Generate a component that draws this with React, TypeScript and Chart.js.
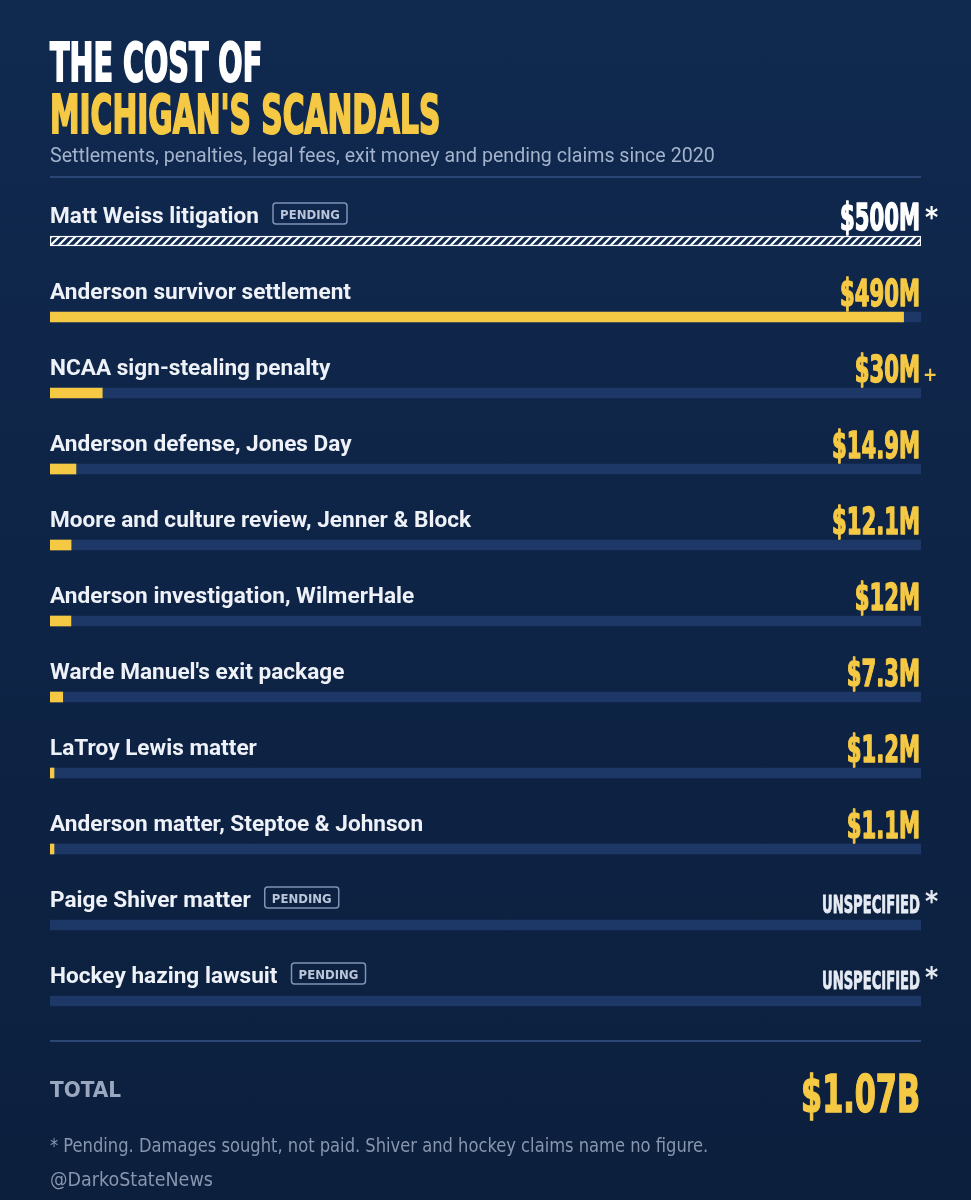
import React, { useEffect, useLayoutEffect, useRef } from "react";
import { Chart, registerables } from "chart.js";

Chart.register(...registerables);

// ---------- data ----------
const categories = [
  "Matt Weiss litigation",
  "Anderson survivor settlement",
  "NCAA sign-stealing penalty",
  "Anderson defense, Jones Day",
  "Moore and culture review, Jenner & Block",
  "Anderson investigation, WilmerHale",
  "Warde Manuel's exit package",
  "LaTroy Lewis matter",
  "Anderson matter, Steptoe & Johnson",
  "Paige Shiver matter",
  "Hockey hazing lawsuit",
];
// amounts in $ millions (null = unspecified)
const amounts: (number | null)[] = [500, 490, 30, 14.9, 12.1, 12, 7.3, 1.2, 1.1, null, null];
const valueLabels = [
  "$500M",
  "$490M",
  "$30M",
  "$14.9M",
  "$12.1M",
  "$12M",
  "$7.3M",
  "$1.2M",
  "$1.1M",
  "UNSPECIFIED",
  "UNSPECIFIED",
];
const valueSuffix = ["*", "", "+", "", "", "", "", "", "", "*", "*"];
const pending = [true, false, false, false, false, false, false, false, false, true, true];
const scaleMax = 500;
const totalLabel = "TOTAL";
const totalValue = "$1.07B";
const titleLine1 = "THE COST OF";
const titleLine2 = "MICHIGAN'S SCANDALS";
const subtitle = "Settlements, penalties, legal fees, exit money and pending claims since 2020";
const footnote = "* Pending. Damages sought, not paid. Shiver and hockey claims name no figure.";
const handle = "@DarkoStateNews";

// ---------- styles ----------
const BG_TOP = "#10294f";
const BG_BOTTOM = "#0c1f3d";
const YELLOW = "#f5c944";
const TRACK = "#1d3767";
const WHITE = "#eef2f8";
const COND = "'DejaVu Sans Condensed', 'DejaVu Sans', sans-serif";

function Fit(props: {
  text: string;
  width: number;
  style: React.CSSProperties;
  right?: boolean;
}) {
  const ref = useRef<HTMLSpanElement>(null);
  useLayoutEffect(() => {
    const el = ref.current;
    if (!el) return;
    const w = el.offsetWidth;
    if (w > 0) el.style.transform = `scaleX(${props.width / w})`;
  }, [props.text, props.width]);
  return (
    <span
      ref={ref}
      style={{
        position: "absolute",
        display: "inline-block",
        whiteSpace: "nowrap",
        transformOrigin: props.right ? "right top" : "left top",
        ...props.style,
      }}
    >
      {props.text}
    </span>
  );
}

function makeHatch(): CanvasPattern | string {
  const c = document.createElement("canvas");
  c.width = 8;
  c.height = 8;
  const g = c.getContext("2d");
  if (!g) return "#ffffff";
  g.fillStyle = BG_TOP;
  g.fillRect(0, 0, 8, 8);
  g.strokeStyle = "#ffffff";
  g.lineWidth = 2.2;
  g.beginPath();
  g.moveTo(-2, 10);
  g.lineTo(10, -2);
  g.moveTo(-6, 6);
  g.lineTo(6, -6);
  g.moveTo(2, 14);
  g.lineTo(14, 2);
  g.stroke();
  return g.createPattern(c, "repeat") || "#ffffff";
}

const LABEL_FONT = "700 22px Roboto, 'Noto Sans', sans-serif";
const VALUE_FONT = `bold 37px ${COND}`;
const UNSPEC_FONT = `bold 25px ${COND}`;
const BADGE_FONT = `bold 13px ${COND}`;

const rowTextPlugin = {
  id: "rowText",
  afterDatasetsDraw(chart: any) {
    const ctx: CanvasRenderingContext2D = chart.ctx;
    const yScale = chart.scales.y;
    const area = chart.chartArea;
    ctx.save();
    ctx.textBaseline = "alphabetic";
    ctx.lineJoin = "round";
    ctx.font = LABEL_FONT;
    const kL = 209 / ctx.measureText(categories[0]).width;
    ctx.font = VALUE_FONT;
    const kV = 80 / ctx.measureText(valueLabels[0]).width;
    ctx.font = UNSPEC_FONT;
    const kU = 98 / ctx.measureText("UNSPECIFIED").width;

    categories.forEach((cat, i) => {
      const cy = yScale.getPixelForValue(i);
      // label
      ctx.font = LABEL_FONT;
      ctx.fillStyle = WHITE;
      ctx.textAlign = "left";
      const lw = ctx.measureText(cat).width * kL;
      ctx.save();
      ctx.translate(area.left, cy - 18);
      ctx.scale(kL, 1);
      ctx.fillText(cat, 0, 0);
      ctx.restore();

      if (pending[i]) {
        const bx = area.left + lw + 14;
        const by = cy - 38;
        const bw = 74;
        const bh = 21;
        ctx.strokeStyle = "#7f93b5";
        ctx.lineWidth = 1.5;
        ctx.beginPath();
        (ctx as any).roundRect
          ? (ctx as any).roundRect(bx, by, bw, bh, 3)
          : ctx.rect(bx, by, bw, bh);
        ctx.stroke();
        ctx.font = BADGE_FONT;
        ctx.fillStyle = "#b9c6da";
        ctx.textAlign = "center";
        ctx.fillText("PENDING", bx + bw / 2, by + 15.5);
      }

      // value
      const isUnspec = amounts[i] === null;
      const col = i === 0 ? "#ffffff" : isUnspec ? "#e6ebf3" : YELLOW;
      ctx.textAlign = "right";
      ctx.fillStyle = col;
      ctx.strokeStyle = col;
      ctx.save();
      if (isUnspec) {
        ctx.font = UNSPEC_FONT;
        ctx.translate(area.right - 1, cy - 12);
        ctx.scale(kU, 1);
        ctx.lineWidth = 0.8;
      } else {
        ctx.font = VALUE_FONT;
        ctx.translate(area.right - 1, cy - 11);
        ctx.scale(kV, 1);
        ctx.lineWidth = 1.4;
      }
      ctx.fillText(valueLabels[i], 0, 0);
      ctx.strokeText(valueLabels[i], 0, 0);
      ctx.restore();

      const suf = valueSuffix[i];
      if (suf === "*") {
        ctx.font = `bold 28px ${COND}`;
        ctx.textAlign = "left";
        ctx.fillStyle = col;
        ctx.fillText("*", area.right + 4, cy - 14);
      } else if (suf === "+") {
        ctx.font = `bold 19px ${COND}`;
        ctx.textAlign = "left";
        ctx.fillStyle = YELLOW;
        ctx.fillText("+", area.right + 2, cy - 12);
      }
    });
    ctx.restore();
  },
};

function BarsChart() {
  const ref = useRef<HTMLCanvasElement>(null);
  useEffect(() => {
    const canvas = ref.current;
    if (!canvas) return;
    const hatch = makeHatch();
    const chart = new Chart(canvas, {
      type: "bar",
      data: {
        labels: categories,
        datasets: [
          {
            label: "Amount ($M)",
            data: amounts as any,
            backgroundColor: amounts.map((_, i) => (i === 0 ? hatch : YELLOW)) as any,
            borderColor: amounts.map((_, i) => (i === 0 ? "#ffffff" : "rgba(0,0,0,0)")),
            borderWidth: amounts.map((_, i) => (i === 0 ? 1.5 : 0)) as any,
            borderSkipped: false,
            barThickness: 10,
            minBarLength: 4,
            grouped: false,
            order: 0,
          } as any,
          {
            label: "Track",
            data: categories.map(() => scaleMax),
            backgroundColor: TRACK,
            borderWidth: 0,
            barThickness: 10,
            grouped: false,
            order: 1,
          } as any,
        ],
      },
      options: {
        indexAxis: "y",
        animation: false,
        responsive: false,
        maintainAspectRatio: false,
        events: [],
        layout: { padding: { left: 50, right: 50, top: 203, bottom: 161 } },
        scales: {
          x: { min: 0, max: scaleMax, display: false },
          y: { display: false },
        },
        plugins: {
          legend: { display: false },
          tooltip: { enabled: false },
        },
      } as any,
      plugins: [rowTextPlugin],
    });
    return () => chart.destroy();
  }, []);
  return (
    <canvas
      ref={ref}
      width={971}
      height={1200}
      style={{ position: "absolute", left: 0, top: 0, width: 971, height: 1200 }}
    />
  );
}

export default function App() {
  return (
    <div
      style={{
        position: "absolute",
        left: 0,
        top: 0,
        width: 971,
        height: 1200,
        overflow: "hidden",
        background: `linear-gradient(180deg, ${BG_TOP} 0%, ${BG_BOTTOM} 100%)`,
      }}
    >
      <style>{"body{margin:0}"}</style>
      <BarsChart />
      <Fit
        text={titleLine1}
        width={212}
        style={{
          left: 50,
          top: 82 - 0.846 * 54,
          fontFamily: COND,
          fontWeight: 700,
          fontSize: 54,
          lineHeight: "54px",
          color: "#ffffff",
          WebkitTextStroke: "2px #ffffff",
        }}
      />
      <Fit
        text={titleLine2}
        width={390}
        style={{
          left: 50,
          top: 134 - 0.846 * 54,
          fontFamily: COND,
          fontWeight: 700,
          fontSize: 54,
          lineHeight: "54px",
          color: YELLOW,
          WebkitTextStroke: `2px ${YELLOW}`,
        }}
      />
      <Fit
        text={subtitle}
        width={665}
        style={{
          left: 50,
          top: 162 - 0.8415 * 20,
          fontFamily: "Roboto, sans-serif",
          fontSize: 20,
          lineHeight: "20px",
          color: "#a3b3cc",
        }}
      />
      <div style={{ position: "absolute", left: 50, top: 176, width: 871, height: 2, background: "#2c4676" }} />
      <div style={{ position: "absolute", left: 50, top: 1040, width: 871, height: 2, background: "#2c4676" }} />
      <Fit
        text={totalLabel}
        width={71}
        style={{
          left: 50,
          top: 1098 - 0.846 * 22,
          fontFamily: COND,
          fontWeight: 700,
          fontSize: 22,
          lineHeight: "22px",
          color: "#9aa8bf",
        }}
      />
      <Fit
        text={totalValue}
        width={119}
        right
        style={{
          right: 51,
          top: 1112 - 0.846 * 51,
          fontFamily: COND,
          fontWeight: 700,
          fontSize: 51,
          lineHeight: "51px",
          color: YELLOW,
          WebkitTextStroke: `1.5px ${YELLOW}`,
        }}
      />
      <Fit
        text={footnote}
        width={658}
        style={{
          left: 50,
          top: 1152 - 0.846 * 19,
          fontFamily: COND,
          fontSize: 19,
          lineHeight: "19px",
          color: "#8896af",
        }}
      />
      <Fit
        text={handle}
        width={163}
        style={{
          left: 50,
          top: 1186 - 0.846 * 19,
          fontFamily: COND,
          fontSize: 19,
          lineHeight: "19px",
          color: "#8896af",
        }}
      />
    </div>
  );
}
